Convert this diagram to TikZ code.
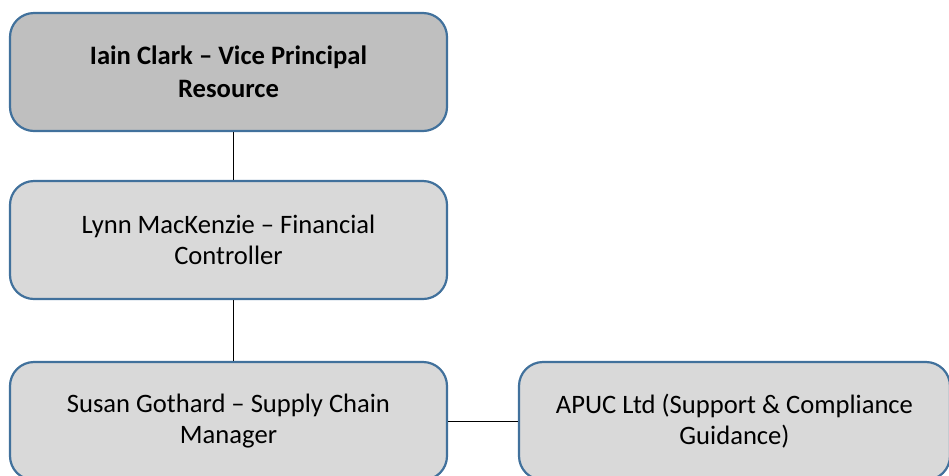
\documentclass[tikz,border=0pt]{standalone}
\usepackage{fontspec}
\setmainfont{Carlito}
\usetikzlibrary{positioning}
\definecolor{boxblue}{HTML}{41719C}
\definecolor{headgrey}{HTML}{BFBFBF}
\definecolor{staffgrey}{HTML}{D9D9D9}
\tikzstyle{post}=[rectangle, rounded corners=24pt, draw=boxblue, line width=2.2pt, fill=staffgrey, minimum width=437pt, minimum height=118pt, align=center, font=\fontsize{26.6}{31.5}\selectfont]

\begin{document}
\begin{tikzpicture}[node distance=168pt,on grid,auto]
	\useasboundingbox (0,0) rectangle (949pt,-475pt);
	\node[post, fill=headgrey, font=\fontsize{26.6}{33}\selectfont\bfseries] (vp) at (228.5pt,-72pt) {Iain Clark -- Vice Principal\\Resource};
	\node[post, below=168pt of vp] (fc) {Lynn MacKenzie -- Financial\\Controller};
	\node[post, below=181pt of fc] (scm) {Susan Gothard -- Supply Chain\\Manager};
	\node[post, minimum width=431pt, right=506pt of scm] (apuc) {APUC Ltd (Support \& Compliance\\Guidance)};
	\path[-, line width=0.9pt]
	([xshift=4.5pt]vp.south) edge ([xshift=4.5pt]fc.north)
	([xshift=4.5pt]fc.south) edge ([xshift=4.5pt]scm.north)
	(scm) edge (apuc);
\end{tikzpicture}
\end{document}
